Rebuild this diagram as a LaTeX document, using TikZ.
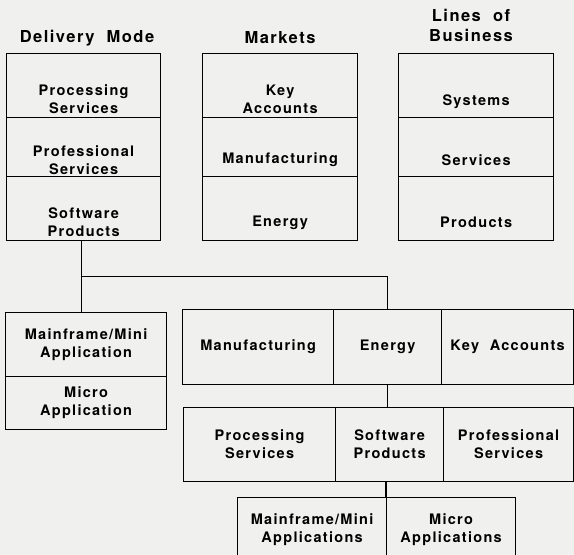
\documentclass[tikz,border=0pt]{standalone}
\usepackage{fontspec}
\setmainfont{TeX Gyre Heros}[LetterSpace=9]
\usetikzlibrary{positioning,calc}
\usepackage{xcolor}
\definecolor{paper}{RGB}{240,240,238}

\tikzset{
  cell/.style={draw, line width=1.2pt, inner sep=0pt, anchor=north west, align=center},
  txt/.style={align=center, inner sep=0pt},
  head/.style={align=center, inner sep=0pt, font=\fontsize{16.5}{20}\selectfont\bfseries},
  link/.style={line width=1.2pt},
}

\begin{document}
\begin{tikzpicture}[x=1pt, y=-1pt, font=\fontsize{14.5}{18}\selectfont\bfseries]

%page and its margins
\clip (0,0) rectangle (574,555);
\fill[paper] (0,0) rectangle (574,555);

%three headings
\node[head] (hdm) at (87,38) {Delivery\ \ Mode};
\node[head] (hmk) at (280,38) {Markets};
\node[head] (hlb) at (471,25) {Lines\ \ of\\Business};

%delivery mode column
\node[cell, minimum width=154pt, minimum height=64pt] (dm1) at (6,53) {};
\node[cell, minimum width=154pt, minimum height=59pt] (dm2) at (6,117) {};
\node[cell, minimum width=154pt, minimum height=64pt] (dm3) at (6,176) {};
\node[txt] (dm1t) at ([yshift=-14pt]dm1.center) {Processing\\Services};
\node[txt] (dm2t) at ([yshift=-13pt]dm2.center) {Professional\\Services};
\node[txt] (dm3t) at ([yshift=-14pt]dm3.center) {Software\\Products};

%markets column
\node[cell, minimum width=155pt, minimum height=64pt] (mk1) at (202,53) {};
\node[cell, minimum width=155pt, minimum height=59pt] (mk2) at (202,117) {};
\node[cell, minimum width=155pt, minimum height=64pt] (mk3) at (202,176) {};
\node[txt] (mk1t) at ([yshift=-14pt]mk1.center) {Key\\Accounts};
\node[txt] (mk2t) at ([yshift=-13pt]mk2.center) {Manufacturing};
\node[txt] (mk3t) at ([yshift=-14pt]mk3.center) {Energy};

%lines of business column
\node[cell, minimum width=155pt, minimum height=64pt] (lb1) at (398,53) {};
\node[cell, minimum width=155pt, minimum height=59pt] (lb2) at (398,117) {};
\node[cell, minimum width=155pt, minimum height=64pt] (lb3) at (398,176) {};
\node[txt] (lb1t) at ([yshift=-16pt]lb1.center) {Systems};
\node[txt] (lb2t) at ([yshift=-13pt]lb2.center) {Services};
\node[txt] (lb3t) at ([yshift=-14pt]lb3.center) {Products};

%software products split by platform
\node[cell, minimum width=161pt, minimum height=64pt] (ma1) at (5,312) {Mainframe/Mini\\Application};
\node[cell, minimum width=161pt, minimum height=53pt] (ma2) at (5,376) {Micro\\Application};

%markets row
\node[cell, minimum width=151pt, minimum height=75pt] (r1a) at (182,309) {Manufacturing};
\node[cell, minimum width=108pt, minimum height=75pt] (r1b) at (333,309) {Energy};
\node[cell, minimum width=132pt, minimum height=75pt] (r1c) at (441,309) {Key\ \ Accounts};

%delivery mode row
\node[cell, minimum width=152pt, minimum height=74pt] (r2a) at (183,407) {Processing\\Services};
\node[cell, minimum width=108pt, minimum height=74pt] (r2b) at (335,407) {Software\\Products};
\node[cell, minimum width=130pt, minimum height=74pt] (r2c) at (443,407) {Professional\\Services};

%applications row
\node[cell, minimum width=149pt, minimum height=65pt] (r3a) at (237,497) {Mainframe/Mini\\Applications};
\node[cell, minimum width=129pt, minimum height=65pt] (r3b) at (386,497) {Micro\\Applications};

%connectors
\coordinate (jn) at ($(dm3.south)+(-2,35)$);
\draw[link] (dm3.south -| jn) -- (jn) -| (r1b.north);
\draw[link] (jn) -- (ma1.north -| jn);
\draw[link] (r1b.south) -- (r2b.north -| r1b.south);
\draw[link] (r2b.south -| r3b.north west) -- (r3b.north west);

\end{tikzpicture}
\end{document}
